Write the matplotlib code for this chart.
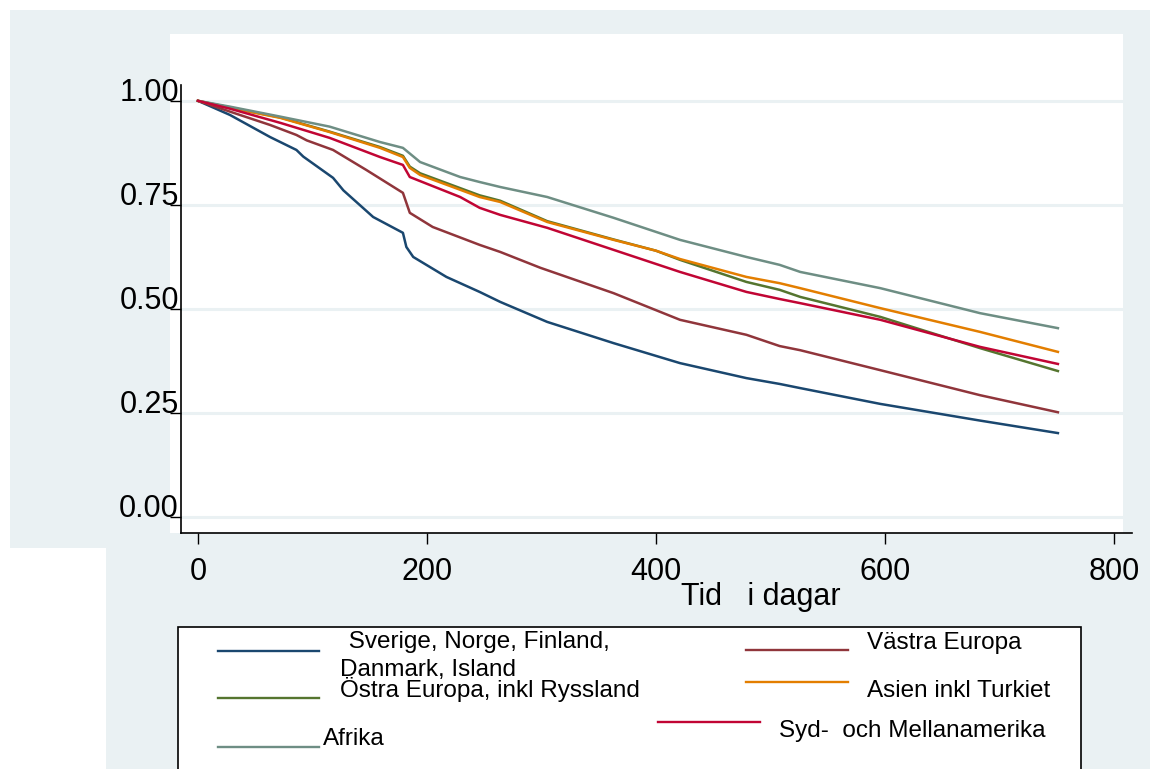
import matplotlib
matplotlib.use("Agg")
import matplotlib.pyplot as plt
from matplotlib.patches import Rectangle
from matplotlib.lines import Line2D

plt.rcParams['font.family'] = ['Liberation Sans', 'DejaVu Sans']

# Kaplan-Meier survival
t_sverige = [0, 28, 63, 86, 92, 118, 127, 153, 179, 182, 188, 217, 246, 264, 305, 363, 421, 479, 508, 526, 596, 683, 751]
s_sverige = [1, 0.966, 0.913, 0.882, 0.866, 0.815, 0.785, 0.721, 0.683, 0.649, 0.625, 0.577, 0.541, 0.517, 0.469, 0.418, 0.370, 0.334, 0.320, 0.310, 0.272, 0.232, 0.202]

t_vastra = [0, 28, 63, 86, 95, 118, 147, 179, 185, 205, 246, 264, 299, 363, 421, 479, 508, 526, 596, 683, 751]
s_vastra = [1, 0.974, 0.942, 0.918, 0.905, 0.882, 0.834, 0.779, 0.731, 0.697, 0.654, 0.637, 0.599, 0.538, 0.474, 0.438, 0.411, 0.401, 0.353, 0.293, 0.252]

t_ostra = [0, 28, 72, 115, 159, 179, 185, 194, 246, 264, 305, 363, 400, 421, 479, 508, 526, 596, 683, 751]
s_ostra = [1, 0.984, 0.960, 0.926, 0.889, 0.868, 0.842, 0.826, 0.773, 0.760, 0.711, 0.667, 0.640, 0.618, 0.565, 0.546, 0.529, 0.481, 0.406, 0.351]

t_asien = [0, 28, 72, 115, 159, 179, 185, 194, 246, 264, 305, 363, 400, 421, 479, 508, 526, 596, 683, 751]
s_asien = [1, 0.983, 0.959, 0.925, 0.887, 0.865, 0.839, 0.822, 0.769, 0.757, 0.709, 0.666, 0.640, 0.620, 0.577, 0.562, 0.550, 0.502, 0.445, 0.397]

t_afrika = [0, 28, 72, 115, 159, 179, 194, 229, 246, 264, 305, 363, 421, 479, 508, 526, 596, 683, 751]
s_afrika = [1, 0.986, 0.962, 0.938, 0.901, 0.887, 0.853, 0.817, 0.805, 0.793, 0.769, 0.719, 0.666, 0.625, 0.606, 0.589, 0.550, 0.490, 0.454]

t_syd = [0, 28, 72, 115, 159, 179, 185, 229, 246, 264, 305, 363, 421, 479, 508, 526, 596, 683, 751]
s_syd = [1, 0.981, 0.947, 0.911, 0.865, 0.846, 0.817, 0.769, 0.743, 0.726, 0.695, 0.642, 0.589, 0.541, 0.524, 0.514, 0.474, 0.409, 0.368]

y_ticks = [0.0, 0.25, 0.5, 0.75, 1.0]
y_labels = ['0.00', '0.25', '0.50', '0.75', '1.00']
x_ticks = [0, 200, 400, 600, 800]

navy, maroon, green, orange, teal, cranberry = '#1a476f', '#90353b', '#55752f', '#e37e00', '#6e8e84', '#c10534'
bg = '#eaf1f3'

W, H = 1150, 769
fig = plt.figure(figsize=(W / 100, H / 100), dpi=100)
fig.patch.set_facecolor('white')


def fr(x, y):
    # pixel (top-left origin) -> figure fraction
    return x / W, 1 - y / H


def box(x0, y0, x1, y1, **kw):
    fx, fy = fr(x0, y1)
    fig.patches.append(Rectangle((fx, fy), (x1 - x0) / W, (y1 - y0) / H,
                                 transform=fig.transFigure, **kw))


# odd stata-like background layout
box(10, 10, 1150, 548, facecolor=bg, edgecolor='none', zorder=-3)
box(106, 548, 1150, 769, facecolor=bg, edgecolor='none', zorder=-3)
box(170, 34, 1123, 533, facecolor='white', edgecolor='none', zorder=-2)

# axes: x from 181..1132 px, y from 85..533 px
ax = fig.add_axes([181 / W, 1 - 533 / H, (1132 - 181) / W, (533 - 85) / H])
ax.set_zorder(1)
ax.patch.set_visible(False)
ax.set_xlim(-14.8, 815.7)
ax.set_ylim(-0.038, 1.038)

for y in y_ticks:
    ax.axhline(y, color=bg, lw=2.2, zorder=1)

ax.plot(t_sverige, s_sverige, color=navy, lw=1.8, zorder=3)
ax.plot(t_vastra, s_vastra, color=maroon, lw=1.8, zorder=3)
ax.plot(t_ostra, s_ostra, color=green, lw=1.8, zorder=3)
ax.plot(t_asien, s_asien, color=orange, lw=1.8, zorder=3)
ax.plot(t_afrika, s_afrika, color=teal, lw=1.8, zorder=3)
ax.plot(t_syd, s_syd, color=cranberry, lw=1.8, zorder=3)

for side in ['top', 'right']:
    ax.spines[side].set_visible(False)
ax.spines['left'].set_linewidth(1.2)
ax.spines['bottom'].set_linewidth(1.2)

ax.set_yticks(y_ticks)
ax.set_yticklabels(y_labels, fontsize=22)
ax.set_xticks(x_ticks)
ax.set_xticklabels([str(v) for v in x_ticks], fontsize=22)
ax.tick_params(axis='y', length=8, width=1, pad=-6.5)
ax.tick_params(axis='x', length=8, width=1, pad=9)
for lab in ax.get_yticklabels():
    lab.set_va('baseline')

fig.text(*fr(761, 597), 'Tid   i dagar', fontsize=22, ha='center', va='center')

# legend box
box(178, 627, 1081, 775, facecolor='white', edgecolor='black', lw=1.2, zorder=1)

keys = [(218, 319, 651, navy), (218, 319, 698, green), (218, 319, 747, teal),
        (746, 848, 650, maroon), (746, 848, 682, orange), (658, 760, 722, cranberry)]
for x0, x1, y, c in keys:
    (a, b), (c2, d) = fr(x0, y), fr(x1, y)
    fig.lines.append(Line2D([a, c2], [b, d], transform=fig.transFigure, color=c, lw=1.7, zorder=2))

texts = [(342, 648, ' Sverige, Norge, Finland,'), (340, 676, 'Danmark, Island'),
         (340, 697, 'Östra Europa, inkl Ryssland'), (323, 745, 'Afrika'),
         (867, 649, 'Västra Europa'), (867, 697, 'Asien inkl Turkiet'),
         (779, 737, 'Syd-  och Mellanamerika')]
for x, y, s in texts:
    fig.text(*fr(x, y), s, fontsize=17.5, ha='left', va='baseline', zorder=3)

fig.savefig('out.png', dpi=100)
